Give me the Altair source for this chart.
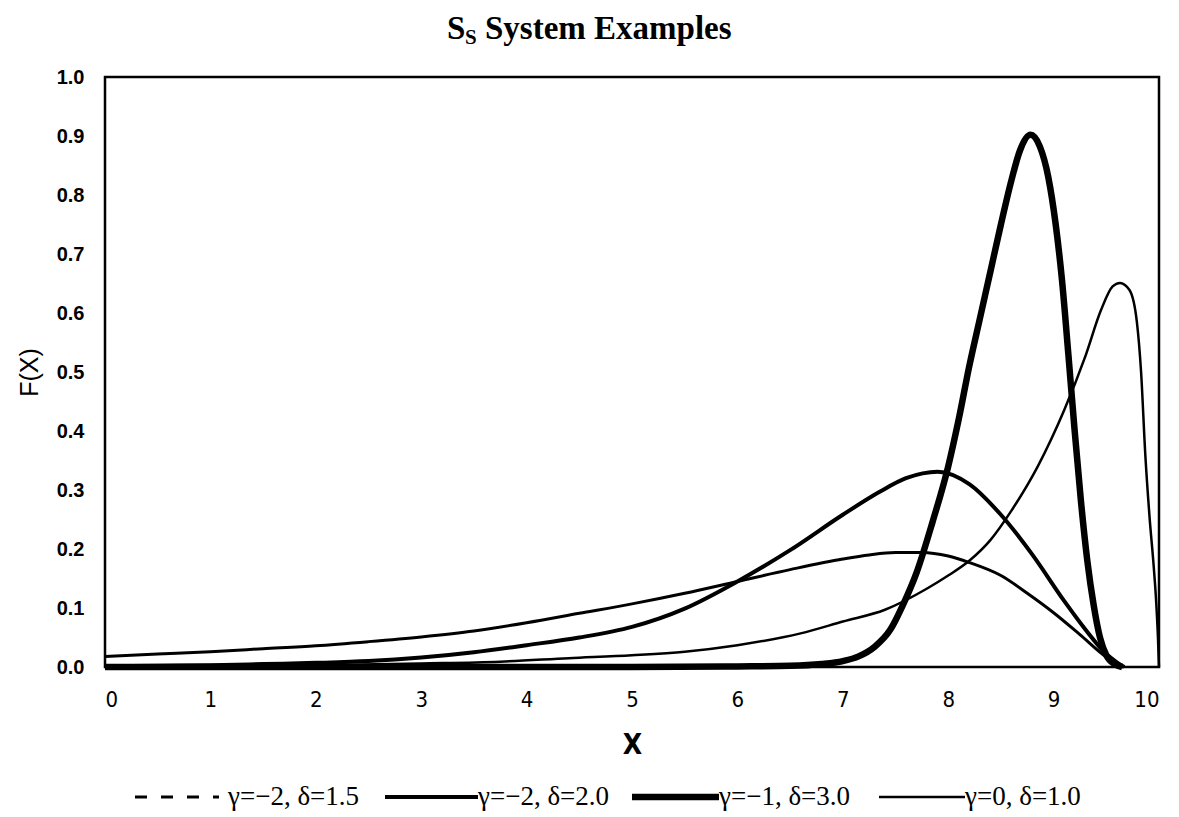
import altair as alt
import pandas as pd

# ---- data ----
xa = [0, 0.5, 1, 1.5, 2, 2.5, 3, 3.5, 4, 4.5, 5, 5.5, 6, 6.5, 7, 7.25, 7.5, 7.75, 8.0, 8.2, 8.5, 8.75, 9.0, 9.25, 9.5, 9.6, 9.65]
ya = [0.018, 0.022, 0.026, 0.031, 0.036, 0.043, 0.051, 0.061, 0.075, 0.091, 0.107, 0.125, 0.145, 0.165, 0.183, 0.190, 0.194, 0.194, 0.188, 0.177, 0.155, 0.125, 0.092, 0.055, 0.017, 0.006, 0.0]

xb = [0, 0.5, 1, 1.5, 2, 2.5, 3, 3.5, 4, 4.5, 5, 5.5, 6, 6.5, 7, 7.35, 7.6, 7.9, 8.2, 8.5, 8.8, 9.1, 9.3, 9.5, 9.6, 9.67]
yb = [0.001, 0.002, 0.003, 0.005, 0.007, 0.010, 0.016, 0.025, 0.037, 0.050, 0.068, 0.099, 0.145, 0.198, 0.258, 0.297, 0.320, 0.331, 0.310, 0.258, 0.190, 0.112, 0.064, 0.022, 0.008, 0.0]

xc = [0, 5, 6, 6.5, 6.8, 7.0, 7.15, 7.3, 7.45, 7.57, 7.7, 7.85, 8.0, 8.1, 8.2, 8.3, 8.4, 8.5, 8.6, 8.68, 8.78, 8.87, 8.95, 9.02, 9.08, 9.14, 9.2, 9.26, 9.32, 9.38, 9.44, 9.5, 9.58, 9.65]
yc = [0.0, 0.0, 0.001, 0.002, 0.005, 0.010, 0.018, 0.034, 0.063, 0.105, 0.160, 0.245, 0.340, 0.420, 0.510, 0.590, 0.670, 0.750, 0.825, 0.875, 0.902, 0.882, 0.830, 0.750, 0.655, 0.530, 0.400, 0.280, 0.180, 0.105, 0.050, 0.020, 0.005, 0.0]

xd = [0, 1, 2, 3, 3.75, 4.4, 5, 5.5, 6, 6.6, 7.0, 7.4, 7.8, 8.0, 8.2, 8.4, 8.6, 8.85, 9.1, 9.3, 9.45, 9.56, 9.63, 9.72, 9.79, 9.83, 9.87, 9.91, 9.95, 9.97, 9.99, 10.0]
yd = [0.0, 0.001, 0.003, 0.006, 0.009, 0.015, 0.020, 0.026, 0.037, 0.057, 0.077, 0.097, 0.133, 0.155, 0.180, 0.215, 0.265, 0.340, 0.435, 0.526, 0.605, 0.645, 0.651, 0.639, 0.585, 0.500, 0.360, 0.255, 0.170, 0.120, 0.050, 0.0]

series_names = ["γ=−2, δ=1.5", "γ=−2, δ=2.0", "γ=−1, δ=3.0", "γ=0, δ=1.0"]
x_ticks = [0, 1, 2, 3, 4, 5, 6, 7, 8, 9, 10]
y_ticks = [0.0, 0.1, 0.2, 0.3, 0.4, 0.5, 0.6, 0.7, 0.8, 0.9, 1.0]

W, H = 1054, 590
SANS = "Liberation Sans"
NARROW = "Liberation Sans Narrow, DejaVu Sans Condensed, Liberation Sans"
SERIF = "Liberation Serif"

widths = [3, 4, 6.5, 2.5]
xs = [xa, xb, xc, xd]
ys = [ya, yb, yc, yd]

xscale = alt.Scale(domain=[0, 10], nice=False, zero=False)
yscale = alt.Scale(domain=[0, 1], nice=False)

x_axis = alt.Axis(values=x_ticks, format="d", tickSize=0, labelPadding=22, domain=False, grid=False,
                  labelFont=NARROW, labelFontSize=22, labelColor="black", labelFontWeight="normal",
                  title="X", titleFont=NARROW, titleFontSize=28, titleFontWeight="bold", titleColor="black",
                  titleY=78, titleBaseline="middle")
y_axis = alt.Axis(values=y_ticks, format=".1f", tickSize=0, labelPadding=21, domain=False, grid=False,
                  labelFont=SANS, labelFontSize=20, labelColor="black", labelFontWeight="bold",
                  title="F(X)", titleFont=SANS, titleFontSize=25, titleColor="black", titleFontWeight="normal",
                  titleX=-76, titleY=H / 2, titleAngle=270, titleAlign="center", titleBaseline="middle")

layers = []
for i in range(4):
    df = pd.DataFrame({"x": xs[i], "y": ys[i]})
    layers.append(alt.Chart(df).mark_line(color="black", strokeWidth=widths[i], interpolate="monotone").encode(
        x=alt.X("x:Q", scale=xscale, axis=x_axis),
        y=alt.Y("y:Q", scale=yscale, axis=y_axis),
    ))

one = pd.DataFrame({"a": [0]})

def txt(text, x, y, size, font, weight="normal", align="left"):
    return alt.Chart(one).mark_text(text=text, font=font, fontSize=size, fontWeight=weight,
                                    align=align, baseline="alphabetic", color="black").encode(
        x=alt.value(x), y=alt.value(y))

# title
layers.append(txt("S", 342, -38, 33, SERIF, "bold"))
layers.append(txt("S", 360, -33, 21, SERIF, "bold"))
layers.append(txt("System Examples", 380, -38, 33, SERIF, "bold"))

# legend
ly = 805 - 77
leg = [
    (30, 114, [12, 14], widths[0], 123),
    (280, 373, None, widths[1], 373),
    (527, 614, None, widths[2], 614),
    (774, 860, None, widths[3], 860),
]
for i, (x0, x1, dash, w, tx) in enumerate(leg):
    kw = dict(color="black", strokeWidth=w)
    if dash:
        kw["strokeDash"] = dash
    layers.append(alt.Chart(one).mark_rule(**kw).encode(x=alt.value(x0), x2=alt.value(x1), y=alt.value(ly - 8)))
    layers.append(txt(series_names[i], tx, ly, 27, SERIF))

chart = alt.layer(*layers).properties(
    width=W, height=H,
    autosize=alt.AutoSizeParams(type="none"),
    padding={"left": 105, "top": 77, "right": 20, "bottom": 150},
).configure(background="white", view=alt.ViewConfig(stroke="black", strokeWidth=2.5))

chart.save("out.html", embed_options={"renderer": "svg", "actions": False})
